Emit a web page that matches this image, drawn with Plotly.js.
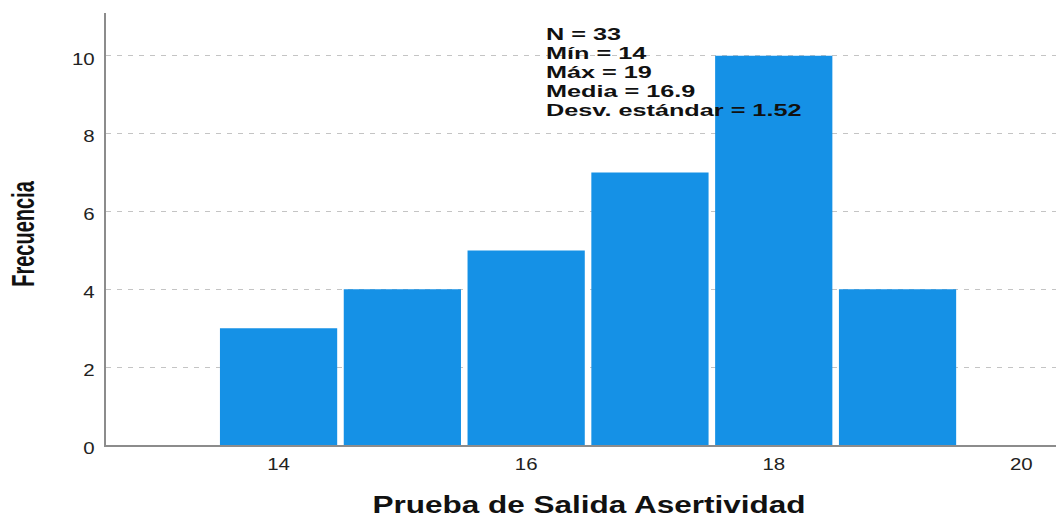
<!DOCTYPE html>
<html>
<head>
<meta charset="utf-8">
<script src="https://cdn.plot.ly/plotly-3.0.1.min.js"></script>
<style>html,body{margin:0;padding:0;background:#fff;}#chart{width:1058px;height:518px;}</style>
</head>
<body>
<div id="chart"></div>
<script>
const scores = [14, 15, 16, 17, 18, 19];
const frequencies = [3, 4, 5, 7, 10, 4];
const xTicks = [14, 16, 18, 20];
const yTicks = [0, 2, 4, 6, 8, 10];
const statsLines = ["N = 33", "Mín = 14", "Máx = 19", "Media = 16.9", "Desv. estándar = 1.52"];
const xTitle = "Prueba de Salida Asertividad";
const yTitle = "Frecuencia";

const trace = {
  type: 'bar',
  x: scores,
  y: frequencies,
  marker: {color: '#1591e6', line: {width: 0}},
  hoverinfo: 'x+y'
};

// stats block placement (paper coordinates)
const statsLeft = 0.461;
const statsTop = 0.951;
const statsStep = 0.0440;

const annotations = statsLines.map((s, i) => ({
  xref: 'paper', yref: 'paper',
  x: statsLeft, y: statsTop - i * statsStep,
  xanchor: 'left', yanchor: 'middle',
  align: 'left', showarrow: false,
  text: '<b>' + s + '</b>',
  font: {family: 'Liberation Sans, Arial, sans-serif', size: 16.5, color: '#111'}
}));

const layout = {
  width: 1058, height: 518,
  margin: {l: 106, r: 2, t: 13, b: 73},
  paper_bgcolor: '#ffffff', plot_bgcolor: '#ffffff',
  bargap: 0.053,
  showlegend: false,
  xaxis: {
    range: [12.606, 20.28],
    tickvals: xTicks, ticktext: xTicks.map(String),
    showgrid: false, zeroline: false,
    showline: true, linecolor: '#8c8c8c', linewidth: 2,
    ticks: '', ticklabelstandoff: 3,
    tickfont: {family: 'Liberation Sans, Arial, sans-serif', size: 16.5, color: '#222'},
    title: {text: xTitle, standoff: 25, font: {family: 'Liberation Sans, Arial, sans-serif', size: 23, color: '#111', weight: 'bold'}}
  },
  yaxis: {
    range: [0, 11.1],
    tickvals: yTicks, ticktext: yTicks.map(String),
    showgrid: true, gridcolor: '#c4c4c4', griddash: '5px,6px', gridwidth: 1,
    zeroline: false,
    showline: true, linecolor: '#8c8c8c', linewidth: 2,
    ticks: '', ticklabelstandoff: 6,
    tickfont: {family: 'Liberation Sans, Arial, sans-serif', size: 16.5, color: '#222'},
    title: {text: yTitle, standoff: 36, font: {family: 'Liberation Sans, Arial, sans-serif', size: 20, color: '#111', weight: 'bold'}}
  },
  annotations: annotations
};

function stretch(el, sx, sy, anchor, dx, dy) {
  const bb = el.getBBox();
  let cx = bb.x + bb.width / 2;
  if (anchor === 'left') cx = bb.x;
  if (anchor === 'right') cx = bb.x + bb.width;
  const cy = bb.y + bb.height / 2;
  const t = el.getAttribute('transform') || '';
  el.setAttribute('transform', 'translate(' + (dx || 0) + ',' + (dy || 0) + ') ' + t +
    ' translate(' + cx + ',' + cy + ') scale(' + sx + ',' + sy + ') translate(' + (-cx) + ',' + (-cy) + ')');
}

Plotly.newPlot('chart', [trace], layout, {displayModeBar: false, staticPlot: true}).then(function (gd) {
  try {
    gd.querySelectorAll('.xtick text').forEach(function (el) { stretch(el, 1.24, 1, 'center', 0, 0); });
    gd.querySelectorAll('.ytick text').forEach(function (el) { stretch(el, 1.24, 1, 'right', 0, 3); });
    gd.querySelectorAll('.xtitle').forEach(function (el) { stretch(el, 1.37, 1, 'center', 8, 0); });
    gd.querySelectorAll('.ytitle').forEach(function (el) { stretch(el, 1, 1.55, 'center', -4, 5); });
    gd.querySelectorAll('.annotation-text').forEach(function (el) { stretch(el, 1.53, 1, 'left', 0, 0); });
  } catch (e) {}
});
</script>
</body>
</html>
